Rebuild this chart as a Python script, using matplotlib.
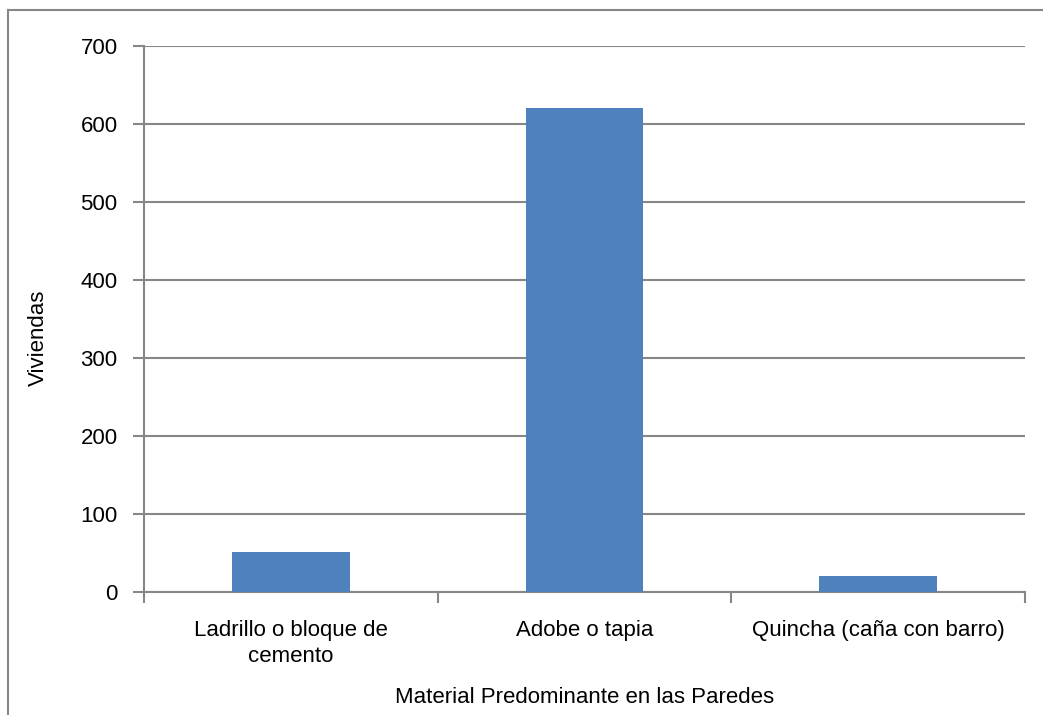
import matplotlib
matplotlib.use("Agg")
import matplotlib.pyplot as plt
from matplotlib.lines import Line2D

plt.rcParams['font.family'] = ['Liberation Sans', 'DejaVu Sans']

categorias = ["Ladrillo o bloque de\ncemento", "Adobe o tapia", "Quincha (caña con barro)"]
viviendas = [51, 621, 20]
y_ticks = [0, 100, 200, 300, 400, 500, 600, 700]

gris = "#878787"
azul = "#4F81BD"
fs = 16

fig = plt.figure(figsize=(10.43, 7.15), dpi=100)
ax = fig.add_axes([144 / 1043, 1 - 592 / 715, (1025 - 144) / 1043, (592 - 46) / 715])

x = range(len(categorias))
ax.bar(x, viviendas, width=0.4, color=azul, zorder=3)

ax.set_xlim(-0.5, len(categorias) - 0.5)
ax.set_ylim(0, 700)
ax.set_yticks(y_ticks)
ax.set_yticklabels([str(v) for v in y_ticks], fontsize=fs)
ax.grid(axis="y", color=gris, linewidth=1.5, zorder=0)

# ticks between categories, labels centred under each bar
ax.set_xticks([i - 0.5 for i in range(len(categorias) + 1)])
ax.set_xticklabels([])
ax.set_xticks(list(x), minor=True)
ax.set_xticklabels(categorias, minor=True, fontsize=fs, linespacing=1.3)
ax.tick_params(axis="x", which="minor", length=0, pad=20)
ax.tick_params(axis="x", which="major", length=8, width=1.5, color=gris, direction="out")
ax.tick_params(axis="y", length=8, width=1.5, color=gris, pad=11)

for side in ["top", "right"]:
    ax.spines[side].set_visible(False)
for side in ["left", "bottom"]:
    ax.spines[side].set_color(gris)
    ax.spines[side].set_linewidth(1.5)

ax.set_ylabel("Viviendas", fontsize=fs)
ax.yaxis.set_label_coords(-95 / 881, 0.465)
ax.set_xlabel("Material Predominante en las Paredes", fontsize=fs)
ax.xaxis.set_label_coords(0.5, -95 / 546)

# outer chart frame, clipped at the right and bottom edges
fig.add_artist(Line2D([8 / 1043, 8 / 1043], [0, 1 - 10 / 715], transform=fig.transFigure,
                      color=gris, linewidth=1.5))
fig.add_artist(Line2D([8 / 1043, 1], [1 - 10 / 715, 1 - 10 / 715], transform=fig.transFigure,
                      color=gris, linewidth=1.5))

fig.savefig("out.png", dpi=100)
